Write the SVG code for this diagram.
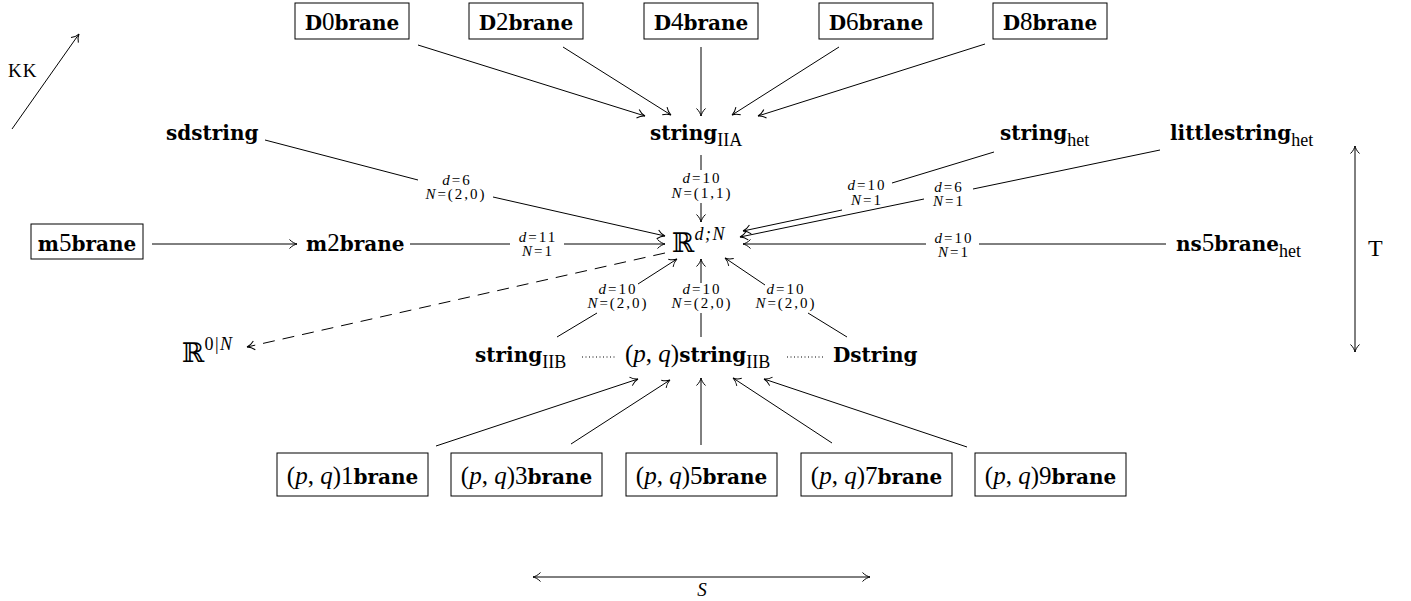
<svg xmlns="http://www.w3.org/2000/svg" width="1411" height="601" viewBox="0 0 1411 601">
<style>
.fr{font-family:"DejaVu Serif",serif;font-weight:bold;font-size:20px}
.rm{font-family:"Liberation Serif",serif;font-size:25px;fill:#000}
.it{font-style:italic}
.sub{font-family:"Liberation Serif",serif;font-size:18px}
.lb{font-family:"Liberation Serif",serif;font-size:15px;letter-spacing:2px;text-anchor:middle;fill:#000}
.bb{font-family:"DejaVu Serif","DejaVu Sans",serif;font-size:27px}
.sup{font-family:"Liberation Serif",serif;font-size:18px;letter-spacing:1.5px}
.box{fill:#fff;stroke:#000;stroke-width:1}
.e{stroke:#000;stroke-width:1;fill:none}
.a{marker-end:url(#ah)}
.aa{marker-end:url(#ah);marker-start:url(#ah)}
.dash{stroke-dasharray:12 8}
.dot{stroke-dasharray:1 2.5}
.mid{text-anchor:middle}
</style>
<defs>
<marker id="ah" viewBox="-9 -6 11 12" refX="0" refY="0" markerWidth="11" markerHeight="12" markerUnits="userSpaceOnUse" orient="auto-start-reverse">
<path d="M-7.5,-4.5 C-5,-1.8 -2,-0.4 0,0 C-2,0.4 -5,1.8 -7.5,4.5" fill="none" stroke="#000" stroke-width="1" stroke-dasharray="none"/>
</marker>
</defs>
<rect width="1411" height="601" fill="#fff"/>

<g id="connectors">
<line class="e a" x1="418" y1="45" x2="645" y2="116"/>
<line class="e a" x1="563" y1="47" x2="671" y2="115"/>
<line class="e a" x1="701" y1="47" x2="701" y2="116"/>
<line class="e a" x1="839" y1="47" x2="732" y2="115"/>
<line class="e a" x1="985" y1="44" x2="758" y2="116"/>
<line class="e" x1="701" y1="155" x2="701" y2="170"/>
<line class="e a" x1="701" y1="203" x2="701" y2="222"/>
<line class="e" x1="265" y1="140" x2="418" y2="180"/>
<line class="e a" x1="493" y1="197" x2="665" y2="236"/>
<line class="e a" x1="152" y1="244" x2="297" y2="244"/>
<line class="e" x1="410" y1="244" x2="510" y2="244"/>
<line class="e a" x1="564" y1="244" x2="665" y2="244"/>
<line class="e" x1="994" y1="152" x2="892" y2="183"/>
<line class="e a" x1="842" y1="210" x2="743" y2="231"/>
<line class="e" x1="1160" y1="150" x2="973" y2="189"/>
<line class="e a" x1="924" y1="199" x2="740" y2="237"/>
<line class="e" x1="1166" y1="244" x2="979" y2="244"/>
<line class="e a" x1="926" y1="244" x2="743" y2="244"/>
<line class="e" x1="557" y1="337" x2="597" y2="313"/>
<line class="e a" x1="638" y1="284" x2="677" y2="259"/>
<line class="e" x1="701" y1="337" x2="701" y2="313"/>
<line class="e a" x1="701" y1="283" x2="701" y2="259"/>
<line class="e" x1="847" y1="337" x2="808" y2="313"/>
<line class="e a" x1="765" y1="285" x2="725" y2="258"/>
<line class="e a dash" x1="665" y1="253" x2="247" y2="347"/>
<line class="e a" x1="436" y1="446" x2="638" y2="379"/>
<line class="e a" x1="571" y1="444" x2="670" y2="380"/>
<line class="e a" x1="701" y1="445" x2="701" y2="378"/>
<line class="e a" x1="832" y1="443" x2="733" y2="378"/>
<line class="e a" x1="967" y1="447" x2="764" y2="379"/>
<line class="e dot" x1="582" y1="357" x2="615" y2="357"/>
<line class="e dot" x1="787" y1="357" x2="825" y2="357"/>
<line class="e a" x1="12" y1="129" x2="79" y2="34"/>
<line class="e aa" x1="1355" y1="146" x2="1355" y2="352"/>
<line class="e aa" x1="533" y1="577" x2="870" y2="577"/>
<g id="edge-labels">
<text class="lb" x="702" y="183"><tspan class="it">d</tspan>=10</text>
<text class="lb" x="702" y="198"><tspan class="it">N</tspan>=(1,1)</text>
<text class="lb" x="457" y="185"><tspan class="it">d</tspan>=6</text>
<text class="lb" x="456" y="199"><tspan class="it">N</tspan>=(2,0)</text>
<text class="lb" x="538" y="242"><tspan class="it">d</tspan>=11</text>
<text class="lb" x="538" y="256"><tspan class="it">N</tspan>=1</text>
<text class="lb" x="867" y="190"><tspan class="it">d</tspan>=10</text>
<text class="lb" x="867" y="205"><tspan class="it">N</tspan>=1</text>
<text class="lb" x="949" y="192"><tspan class="it">d</tspan>=6</text>
<text class="lb" x="949" y="206"><tspan class="it">N</tspan>=1</text>
<text class="lb" x="954" y="243"><tspan class="it">d</tspan>=10</text>
<text class="lb" x="954" y="257"><tspan class="it">N</tspan>=1</text>
<text class="lb" x="618" y="294"><tspan class="it">d</tspan>=10</text>
<text class="lb" x="618" y="308"><tspan class="it">N</tspan>=(2,0)</text>
<text class="lb" x="702" y="294"><tspan class="it">d</tspan>=10</text>
<text class="lb" x="702" y="308"><tspan class="it">N</tspan>=(2,0)</text>
<text class="lb" x="786" y="294"><tspan class="it">d</tspan>=10</text>
<text class="lb" x="786" y="308"><tspan class="it">N</tspan>=(2,0)</text>
</g>
</g>

<g id="D0brane"><rect class="box" x="295" y="3" width="114" height="36"/><text class="rm mid" x="352" y="30"><tspan class="fr">D</tspan>0<tspan class="fr">brane</tspan></text></g>
<g id="D2brane"><rect class="box" x="469" y="3" width="114" height="36"/><text class="rm mid" x="526" y="30"><tspan class="fr">D</tspan>2<tspan class="fr">brane</tspan></text></g>
<g id="D4brane"><rect class="box" x="644" y="3" width="114" height="36"/><text class="rm mid" x="701" y="30"><tspan class="fr">D</tspan>4<tspan class="fr">brane</tspan></text></g>
<g id="D6brane"><rect class="box" x="819" y="3" width="114" height="36"/><text class="rm mid" x="876" y="30"><tspan class="fr">D</tspan>6<tspan class="fr">brane</tspan></text></g>
<g id="D8brane"><rect class="box" x="993" y="3" width="114" height="36"/><text class="rm mid" x="1050" y="30"><tspan class="fr">D</tspan>8<tspan class="fr">brane</tspan></text></g>

<g id="sdstring"><text class="fr" x="166" y="140">sdstring</text></g>
<g id="stringIIA"><text class="fr" x="650" y="140">string<tspan class="sub" font-weight="normal" dy="6">IIA</tspan></text></g>
<g id="stringhet"><text class="fr" x="1000" y="140">string<tspan class="sub" font-weight="normal" dy="6">het</tspan></text></g>
<g id="littlestringhet"><text class="fr" x="1170" y="140">littlestring<tspan class="sub" font-weight="normal" dy="6">het</tspan></text></g>

<g id="m5brane"><rect class="box" x="31" y="224" width="112" height="35"/><text class="rm mid" x="87" y="251"><tspan class="fr">m</tspan>5<tspan class="fr">brane</tspan></text></g>
<g id="m2brane"><text class="rm" x="306" y="251"><tspan class="fr">m</tspan>2<tspan class="fr">brane</tspan></text></g>
<g id="Rdn"><text class="bb" x="672" y="252">ℝ<tspan class="sup it" dy="-12">d;N</tspan></text></g>
<g id="ns5branehet"><text class="rm" x="1176" y="251"><tspan class="fr">ns</tspan>5<tspan class="fr">brane</tspan><tspan class="sub" dy="6">het</tspan></text></g>

<g id="R0N"><text class="bb" x="182" y="362">ℝ<tspan class="sup" dy="-12">0|<tspan class="it">N</tspan></tspan></text></g>
<g id="stringIIB"><text class="fr" x="475" y="362">string<tspan class="sub" font-weight="normal" dy="6">IIB</tspan></text></g>
<g id="pqstringIIB"><text class="rm" x="625" y="362">(<tspan class="it">p</tspan>, <tspan class="it">q</tspan>)<tspan class="fr">string</tspan><tspan class="sub" dy="6">IIB</tspan></text></g>
<g id="Dstring"><text class="fr" x="833" y="362">Dstring</text></g>

<g id="pq1brane"><rect class="box" x="277" y="453" width="151" height="43"/><text class="rm mid" x="352.5" y="484">(<tspan class="it">p</tspan>, <tspan class="it">q</tspan>)1<tspan class="fr">brane</tspan></text></g>
<g id="pq3brane"><rect class="box" x="451" y="453" width="151" height="43"/><text class="rm mid" x="526.5" y="484">(<tspan class="it">p</tspan>, <tspan class="it">q</tspan>)3<tspan class="fr">brane</tspan></text></g>
<g id="pq5brane"><rect class="box" x="626" y="453" width="151" height="43"/><text class="rm mid" x="701.5" y="484">(<tspan class="it">p</tspan>, <tspan class="it">q</tspan>)5<tspan class="fr">brane</tspan></text></g>
<g id="pq7brane"><rect class="box" x="801" y="453" width="151" height="43"/><text class="rm mid" x="876.5" y="484">(<tspan class="it">p</tspan>, <tspan class="it">q</tspan>)7<tspan class="fr">brane</tspan></text></g>
<g id="pq9brane"><rect class="box" x="975" y="453" width="151" height="43"/><text class="rm mid" x="1050.5" y="484">(<tspan class="it">p</tspan>, <tspan class="it">q</tspan>)9<tspan class="fr">brane</tspan></text></g>

<g id="KK"><text class="rm" x="8" y="77" style="font-size:19px;letter-spacing:1px">KK</text></g>
<g id="T"><text class="rm" x="1368" y="256" style="font-size:24px">T</text></g>
<g id="S"><text class="rm it mid" x="702" y="596" style="font-size:19px">S</text></g>
</svg>
